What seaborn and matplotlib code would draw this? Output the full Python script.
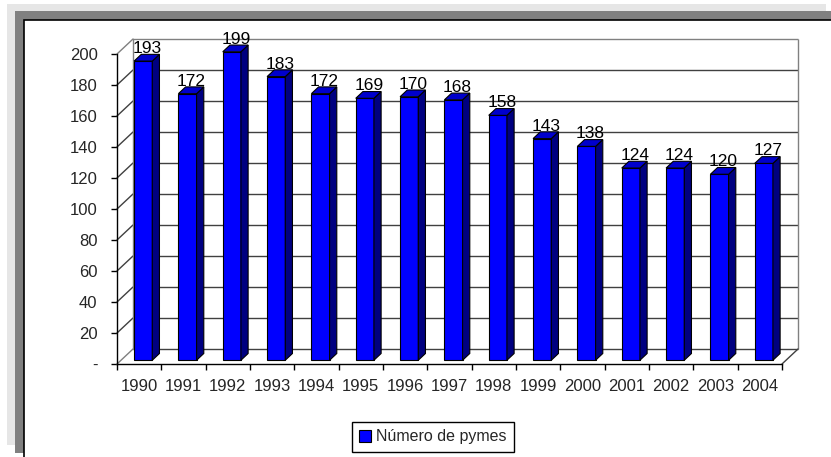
import numpy as np
import pandas as pd
import matplotlib.pyplot as plt
import matplotlib.transforms as mtransforms
from matplotlib.patches import Polygon, Rectangle, Patch
from matplotlib.lines import Line2D
import seaborn as sns

# data
years = ["1990", "1991", "1992", "1993", "1994", "1995", "1996", "1997",
         "1998", "1999", "2000", "2001", "2002", "2003", "2004"]
pymes = [193, 172, 199, 183, 172, 169, 170, 168, 158, 143, 138, 124, 124, 120, 127]
y_ticks = [0, 20, 40, 60, 80, 100, 120, 140, 160, 180, 200]
y_labels = ["-"] + [str(t) for t in y_ticks[1:]]

df = pd.DataFrame({"year": years, "pymes": pymes})

sns.set_style("white")
plt.rcParams["font.family"] = ["Liberation Sans", "DejaVu Sans"]

W, H = 831, 457
fig = plt.figure(figsize=(W / 100, H / 100), dpi=100)
fig.patch.set_facecolor("white")

# frame around the chart (Excel style shadow border)
def px_rect(x0, y0, x1, y1, **kw):
    fig.patches.append(Rectangle((x0 / W, 1 - y1 / H), (x1 - x0) / W, (y1 - y0) / H,
                                 transform=fig.transFigure, **kw))

px_rect(7, 4, 826, 445, facecolor="#e6e6e6", edgecolor="none", zorder=-3)
px_rect(15, 11, 840, 453, facecolor="#808080", edgecolor="none", zorder=-2)
px_rect(23.5, 19.5, 840, 470, facecolor="white", edgecolor="black", linewidth=1.2, zorder=-1)

# front plane of the plot
x_left, x_right, y_top, y_bot = 117, 782, 54, 364
ax = fig.add_axes([x_left / W, 1 - y_bot / H, (x_right - x_left) / W, (y_bot - y_top) / H])
ax.set_facecolor("none")
ax.set_xlim(-0.5, len(years) - 0.5)
ax.set_ylim(0, 200)

depth = (16, 15)          # full depth of the 3D box in pixels
d0, d1 = 0.25, 0.70       # bar depth range as fraction of the box depth

back = mtransforms.offset_copy(ax.transData, fig=fig, x=depth[0], y=depth[1], units="dots")
front_bar = mtransforms.offset_copy(ax.transData, fig=fig, x=depth[0] * d0, y=depth[1] * d0, units="dots")

# back wall gridlines
ax.hlines(y_ticks[:-1], -0.5, len(years) - 0.5, colors="#404040", linewidth=1,
          transform=back, zorder=0.5, clip_on=False)
ax.hlines([200], -0.5, len(years) - 0.5, colors="#808080", linewidth=1,
          transform=back, zorder=0.5, clip_on=False)
ax.vlines([len(years) - 0.5], 0, 200, colors="#808080", linewidth=1,
          transform=back, zorder=0.5, clip_on=False)

ident = mtransforms.IdentityTransform()

def add_line(p, q, color, lw=1.0, z=0.6):
    ax.add_line(Line2D([p[0], q[0]], [p[1], q[1]], color=color, linewidth=lw,
                       transform=ident, clip_on=False, zorder=z))

# left side wall and floor edges
for t in y_ticks:
    p = ax.transData.transform((-0.5, t))
    add_line(p, (p[0] + depth[0], p[1] + depth[1]), "#404040" if t not in (0, 200) else "#808080")
p = ax.transData.transform((-0.5, 0))
q = ax.transData.transform((-0.5, 200))
add_line((p[0] + depth[0], p[1] + depth[1]), (q[0] + depth[0], q[1] + depth[1]), "#808080")
p = ax.transData.transform((len(years) - 0.5, 0))
add_line(p, (p[0] + depth[0], p[1] + depth[1]), "#404040")

# bars (front faces)
sns.barplot(data=df, x="year", y="pymes", color="#0000FF", saturation=1, width=0.41,
            edgecolor="black", linewidth=0.8, ax=ax, zorder=2)

bw = depth[0] * (d1 - d0)
bh = depth[1] * (d1 - d0)
for patch, val in zip(ax.patches, pymes):
    patch.set_transform(front_bar)
    patch.set_clip_on(False)
    x0 = patch.get_x()
    x1 = x0 + patch.get_width()
    (a0, b0) = front_bar.transform((x0, 0))
    (a1, b1) = front_bar.transform((x1, val))
    side = Polygon([(a1, b0), (a1 + bw, b0 + bh), (a1 + bw, b1 + bh), (a1, b1)],
                   closed=True, facecolor="#000080", edgecolor="black", linewidth=0.8,
                   transform=ident, clip_on=False, zorder=2)
    top = Polygon([(a0, b1), (a1, b1), (a1 + bw, b1 + bh), (a0 + bw, b1 + bh)],
                  closed=True, facecolor="#0000CC", edgecolor="black", linewidth=0.8,
                  transform=ident, clip_on=False, zorder=2)
    ax.add_patch(side)
    ax.add_patch(top)
    ax.annotate(str(val), xy=((x0 + x1) / 2, val), xycoords=front_bar,
                xytext=(4, 8), textcoords="offset pixels", ha="center", va="baseline",
                fontsize=12.5, color="black", annotation_clip=False, zorder=3)

# axes styling
for s in ["top", "right"]:
    ax.spines[s].set_visible(False)
for s in ["left", "bottom"]:
    ax.spines[s].set_color("black")
    ax.spines[s].set_linewidth(1)
    ax.spines[s].set_zorder(1)

ax.set_yticks(y_ticks)
ax.set_yticklabels(y_labels)
ax.set_xticks(range(len(years)))
ax.set_xticklabels(years)
ax.set_xticks(np.arange(-0.5, len(years)), minor=True)
ax.tick_params(axis="y", length=4, width=1, color="black", labelsize=12, pad=10, left=True)
ax.tick_params(axis="x", which="major", length=0, labelsize=12, pad=11)
ax.tick_params(axis="x", which="minor", length=4, width=1, color="black", bottom=True)
ax.set_xlabel("")
ax.set_ylabel("")
ax.grid(False)

# legend
handle = Patch(facecolor="#0000FF", edgecolor="black", linewidth=0.8)
fig.legend([handle], ["Número de pymes"], loc="center",
           bbox_to_anchor=(433 / W, 1 - 437 / H), frameon=True, fancybox=False,
           edgecolor="black", fontsize=11.5, handlelength=0.75, handleheight=0.75,
           handletextpad=0.3, borderpad=0.45, framealpha=1)

fig.savefig("out.png", dpi=100)
